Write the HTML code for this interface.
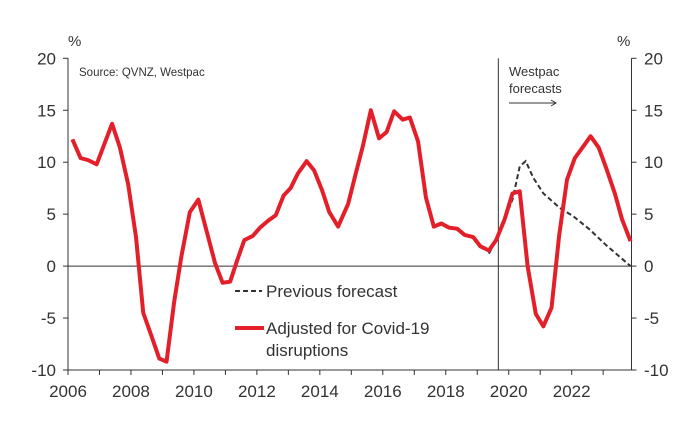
<!DOCTYPE html>
<html><head><meta charset="utf-8"><style>
body{margin:0;background:#fff}
svg{display:block;font-family:"Liberation Sans",sans-serif}
</style></head><body>
<svg id="c" width="685" height="432" viewBox="0 0 685 432"></svg>
<script>
const xTicks=[2006,2008,2010,2012,2014,2016,2018,2020,2022];
const yTicks=[-10,-5,0,5,10,15,20];
const redDates=[2006.14,2006.4,2006.64,2006.91,2007.4,2007.65,2007.91,2008.16,2008.39,2008.66,2008.9,2009.13,2009.37,2009.6,2009.87,2010.14,2010.4,2010.67,2010.91,2011.15,2011.38,2011.6,2011.87,2012.1,2012.37,2012.6,2012.85,2013.07,2013.3,2013.58,2013.82,2014.07,2014.3,2014.58,2014.9,2015.14,2015.37,2015.62,2015.88,2016.12,2016.36,2016.63,2016.86,2017.12,2017.37,2017.62,2017.86,2018.1,2018.36,2018.6,2018.87,2019.1,2019.37,2019.6,2019.87,2020.12,2020.35,2020.6,2020.86,2021.1,2021.36,2021.6,2021.85,2022.1,2022.34,2022.6,2022.86,2023.1,2023.37,2023.6,2023.87];
const redValues=[12.2,10.4,10.2,9.8,13.7,11.4,7.9,2.8,-4.5,-6.8,-8.9,-9.2,-3.5,0.9,5.2,6.4,3.4,0.3,-1.6,-1.5,0.6,2.5,2.9,3.7,4.4,4.9,6.8,7.5,8.9,10.1,9.2,7.3,5.2,3.8,6.0,8.9,11.6,15.0,12.3,12.9,14.9,14.1,14.3,12.0,6.6,3.8,4.1,3.7,3.6,3.0,2.8,1.9,1.5,2.5,4.5,7.0,7.2,0.0,-4.6,-5.8,-4.0,2.9,8.3,10.4,11.4,12.5,11.4,9.4,7.0,4.5,2.4];
const prevDates=[2019.37,2019.6,2019.87,2020.12,2020.35,2020.54,2020.78,2021.1,2021.62,2022.05,2022.58,2023.1,2023.87];
const prevValues=[1.2,2.5,4.5,6.4,9.6,10.1,8.5,7.0,5.6,4.8,3.5,2.0,0.0];
const X0=68,X1=631.5,Y0=58.3,Y1=370;
const sx=d=>X0+(d-2006)*(X1-X0)/17.9;
const sy=v=>Y1-(v+10)*(Y1-Y0)/30;
const svg=document.getElementById('c');
const NS='http://www.w3.org/2000/svg';
function mk(t,a,txt){const e=document.createElementNS(NS,t);for(const k in a)e.setAttribute(k,a[k]);if(txt!=null)e.textContent=txt;svg.appendChild(e);return e;}
let e;
e=mk('line',{x1:X0,y1:Y0,x2:X0,y2:Y1,stroke:'#333','stroke-width':1});

e=mk('line',{x1:X1,y1:Y0,x2:X1,y2:Y1,stroke:'#333','stroke-width':1});

e=mk('line',{x1:X0,y1:Y1,x2:X1,y2:Y1,stroke:'#333','stroke-width':1});

e=mk('line',{x1:X0,y1:sy(0),x2:X1,y2:sy(0),stroke:'#333','stroke-width':1});

e=mk('line',{x1:sx(2019.67),y1:Y0,x2:sx(2019.67),y2:Y1,stroke:'#333','stroke-width':1});

for(let yr=2006;yr<=2023;yr++){e=mk('line',{x1:sx(yr),y1:Y1,x2:sx(yr),y2:Y1+5,stroke:'#333'});
}
xTicks.forEach(t=>{e=mk('text',{x:sx(t),y:397,'text-anchor':'middle','font-size':17,fill:'#333'},t);
});
yTicks.forEach(t=>{
e=mk('line',{x1:X0-5,y1:sy(t),x2:X0,y2:sy(t),stroke:'#333'});
e=mk('line',{x1:X1,y1:sy(t),x2:X1+5,y2:sy(t),stroke:'#333'});
e=mk('text',{x:56,y:sy(t)+6,'text-anchor':'end','font-size':17,fill:'#333'},t);
e=mk('text',{x:644,y:sy(t)+6,'text-anchor':'start','font-size':17,fill:'#333'},t);});
e=mk('text',{x:68,y:46,'font-size':15,fill:'#333'},'%');
e=mk('text',{x:617,y:46,'font-size':15,fill:'#333'},'%');
e=mk('text',{x:79,y:76,'font-size':11.5,fill:'#333'},'Source: QVNZ, Westpac');
e=mk('text',{x:509,y:76,'font-size':13,fill:'#333'},'Westpac');
e=mk('text',{x:509,y:93,'font-size':13,fill:'#333'},'forecasts');
e=mk('path',{d:'M509 103H556M551 100L556 103L551 106',fill:'none',stroke:'#333','stroke-width':1});
e=mk('polyline',{points:prevDates.map((d,i)=>sx(d)+','+sy(prevValues[i])).join(' '),fill:'none',stroke:'#333','stroke-width':2,'stroke-dasharray':'5,3'});

e=mk('polyline',{points:redDates.map((d,i)=>sx(d)+','+sy(redValues[i])).join(' '),fill:'none',stroke:'#e3202a','stroke-width':4,'stroke-linejoin':'round'});

e=mk('line',{x1:235,y1:291,x2:262,y2:291,stroke:'#333','stroke-width':2,'stroke-dasharray':'5,3'});
e=mk('text',{x:266,y:297,'font-size':17,fill:'#333'},'Previous forecast');
e=mk('line',{x1:235,y1:328,x2:264,y2:328,stroke:'#e3202a','stroke-width':4});
e=mk('text',{x:266,y:334,'font-size':17,fill:'#333'},'Adjusted for Covid-19');
e=mk('text',{x:266,y:356,'font-size':17,fill:'#333'},'disruptions');
</script>
</body></html>
